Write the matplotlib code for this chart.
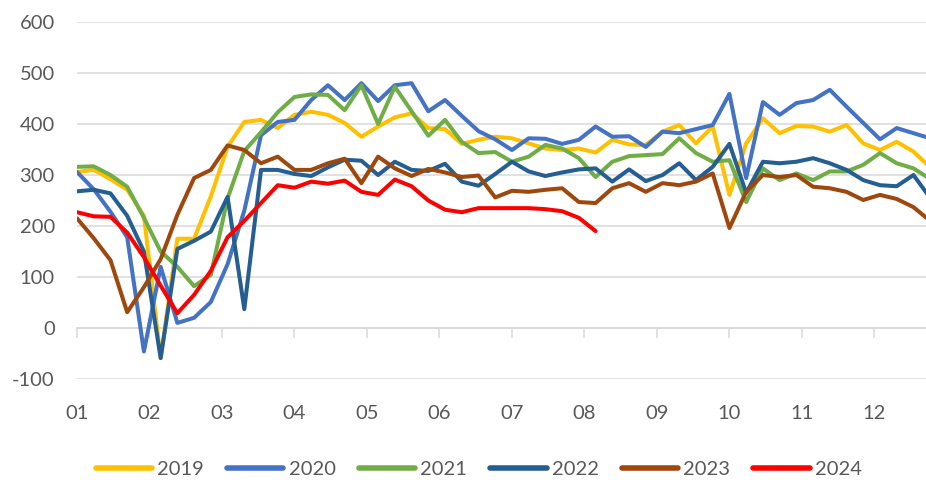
import numpy as np
import matplotlib.pyplot as plt

# weekly values, 52 points per year (index 0..51)
y2019 = [306, 310, 292, 271, 220, -59, 175, 175, 258, 355, 404, 408, 392, 418, 424, 418, 402, 375,
         395, 413, 421, 392, 390, 361, 369, 375, 372, 362, 352, 349, 352, 344, 369, 360, 359, 385,
         398, 362, 395, 261, 362, 411, 382, 396, 395, 385, 398, 362, 349, 365, 346, 315]
y2020 = [306, 272, 228, 178, -46, 120, 10, 20, 51, 125, 230, 378, 404, 408, 447, 476, 447, 480,
         445, 476, 480, 425, 447, 416, 386, 370, 349, 372, 371, 361, 369, 395, 375, 376, 355, 385,
         382, 390, 398, 459, 294, 443, 418, 441, 447, 467, 434, 402, 370, 392, 382, 372]
y2021 = [316, 317, 300, 277, 216, 150, 120, 82, 104, 254, 347, 384, 423, 453, 458, 457, 427, 476,
         400, 473, 425, 377, 408, 365, 343, 345, 326, 336, 359, 352, 333, 296, 326, 337, 339, 341,
         372, 343, 326, 329, 247, 313, 290, 303, 290, 307, 307, 320, 343, 323, 313, 292]
y2022 = [268, 271, 264, 220, 150, -59, 155, 171, 189, 257, 37, 310, 310, 302, 298, 315, 330, 328,
         300, 326, 310, 308, 322, 287, 279, 302, 326, 307, 298, 305, 311, 313, 287, 311, 288, 300,
         323, 290, 316, 361, 265, 326, 323, 326, 333, 323, 310, 290, 280, 278, 300, 255]
y2023 = [215, 176, 133, 31, 80, 135, 222, 294, 310, 358, 349, 323, 336, 310, 310, 323, 332, 284,
         336, 313, 298, 312, 305, 296, 299, 256, 269, 267, 271, 274, 247, 245, 274, 284, 267, 284,
         280, 287, 303, 196, 267, 300, 296, 300, 277, 274, 267, 251, 261, 253, 237, 210]
y2024 = [227, 219, 218, 187, 139, 83, 29, 65, 112, 178, 210, 245, 280, 275, 287, 283, 289, 267,
         261, 291, 278, 250, 232, 227, 235, 235, 235, 235, 233, 229, 216, 190]

years = ['2019', '2020', '2021', '2022', '2023', '2024']
colors = ['#FFC000', '#4472C4', '#70AD47', '#255E91', '#9E480E', '#FF0000']
month_labels = ['01', '02', '03', '04', '05', '06', '07', '08', '09', '10', '11', '12']

plt.rcParams['font.family'] = ['Lato', 'DejaVu Sans']
plt.rcParams['axes.unicode_minus'] = False
text_color = '#595959'
grid_color = '#D9D9D9'

fig = plt.figure(figsize=(9.26, 4.8), dpi=100)
ax = fig.add_axes([77 / 926, 101 / 480, 1 - 77 / 926, 357 / 480])

series = [y2019, y2020, y2021, y2022, y2023, y2024]
for vals, name, c in zip(series, years, colors):
    ax.plot(np.arange(len(vals)), vals, color=c, lw=2.9, label=name,
            solid_joinstyle='round', solid_capstyle='round')

ax.set_ylim(-100, 600)
ax.set_xlim(0, 50.75)
ax.set_yticks(range(-100, 601, 100))
ax.yaxis.grid(True, color=grid_color, lw=1.1)
ax.set_axisbelow(True)
for s in ax.spines.values():
    s.set_visible(False)
ax.tick_params(axis='y', length=0, pad=16, labelsize=14.5, labelcolor=text_color)

# month positions along the weekly axis
month_pos = [k * 52 / 12 for k in range(12)]
ax.set_xticks(month_pos)
ax.set_xticklabels(month_labels)
ax.tick_params(axis='x', length=0, pad=19, labelsize=14.5, labelcolor=text_color)

# axis line with tick marks at value 0
sec = ax.secondary_xaxis(100 / 700)
sec.set_xticks(month_pos)
sec.tick_params(axis='x', length=7, width=1.1, color=grid_color, labelbottom=False, direction='out')
sec.spines['bottom'].set_color(grid_color)
sec.spines['bottom'].set_linewidth(1.1)

leg = fig.legend(loc='lower center', bbox_to_anchor=(0.517, -0.034), ncol=6, frameon=False,
                 fontsize=14.5, handlelength=2.8, handletextpad=0.25, columnspacing=1.15)
for t in leg.get_texts():
    t.set_color(text_color)
for h in leg.get_lines():
    h.set_linewidth(4)
    h.set_solid_capstyle('round')

fig.savefig('out.png', dpi=100)
